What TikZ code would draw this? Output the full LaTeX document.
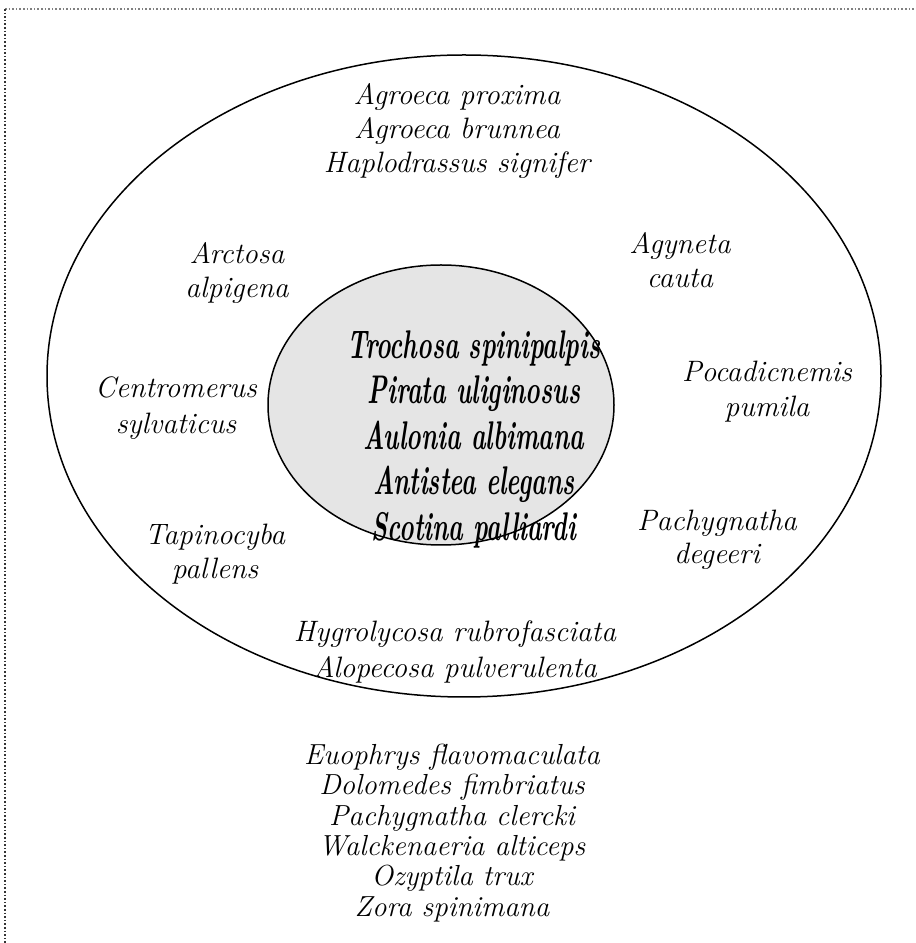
\documentclass[tikz,border=0pt]{standalone}
\usepackage{fontspec}
\newfontfamily\narrowbold[FakeStretch=0.62]{Latin Modern Roman}
\begin{document}
\begin{tikzpicture}[x=1pt, y=1pt]
      \useasboundingbox (0, 0) rectangle (916, 943);
      % frame
      \draw[gray, dotted, line width=1.6pt] (5, 934) -- (916, 934);
      \draw[black!80, dotted, line width=1.6pt] (5, 934) -- (5, 0);
      % circles
      \draw[line width=1.5pt] (464, 567) ellipse (417 and 321);
      \draw[line width=1.5pt, fill=black!10] (441, 538) ellipse (173 and 140);
      % core species
      \node[align=center, font=\narrowbold\bfseries\itshape\fontsize{40}{45.5}\selectfont] (core) at (474, 504)
        {Trochosa spinipalpis\\Pirata uliginosus\\Aulonia albimana\\Antistea elegans\\Scotina palliardi};
      % ring species
      \node[align=center, font=\itshape\fontsize{29.5}{34}\selectfont] (top) at (457, 812)
        {Agroeca proxima\\Agroeca brunnea\\Haplodrassus signifer};
      \node[align=center, font=\itshape\fontsize{29.5}{34}\selectfont] (arctosa) at (237, 670) {Arctosa\\alpigena};
      \node[align=center, font=\itshape\fontsize{29.5}{34}\selectfont] (agyneta) at (680, 683) {Agyneta\\cauta};
      \node[align=center, font=\itshape\fontsize{29.5}{36}\selectfont] (centro) at (176, 535) {Centromerus\\sylvaticus};
      \node[align=center, font=\itshape\fontsize{29.5}{35}\selectfont] (poca) at (767, 551) {Pocadicnemis\\pumila};
      \node[align=center, font=\itshape\fontsize{29.5}{34}\selectfont] (tapino) at (215, 389) {Tapinocyba\\pallens};
      \node[align=center, font=\itshape\fontsize{29.5}{33}\selectfont] (pachy) at (717, 403) {Pachygnatha\\degeeri};
      \node[align=center, font=\itshape\fontsize{29.5}{36}\selectfont] (bottom) at (455, 291)
        {Hygrolycosa rubrofasciata\\Alopecosa pulverulenta};
      % outside species
      \node[align=center, font=\itshape\fontsize{29}{30.4}\selectfont] (outside) at (452, 110)
        {Euophrys flavomaculata\\Dolomedes fimbriatus\\Pachygnatha clercki\\Walckenaeria alticeps\\Ozyptila trux\\Zora spinimana};
    \end{tikzpicture}
\end{document}
